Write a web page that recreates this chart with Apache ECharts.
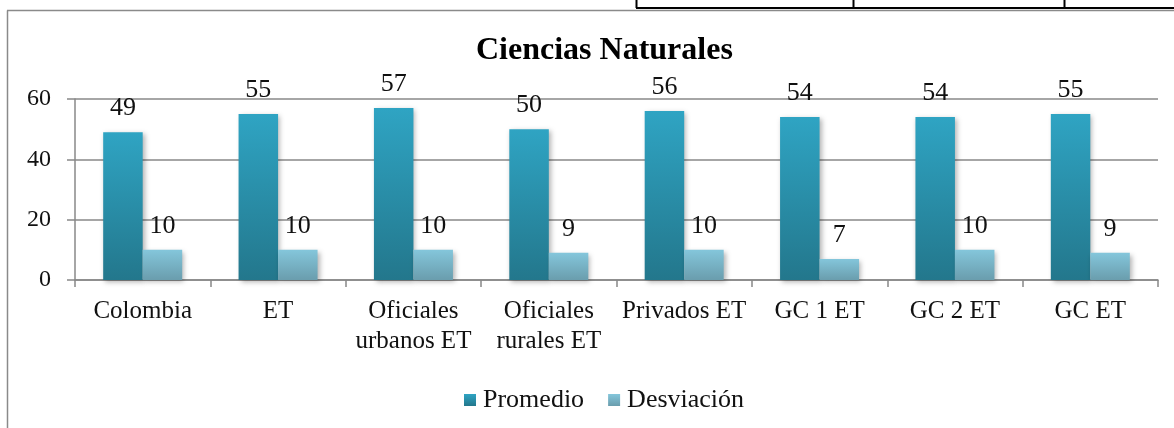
<!DOCTYPE html>
<html>
<head>
<meta charset="utf-8">
<script src="https://cdn.jsdelivr.net/npm/echarts@6/dist/echarts.min.js"></script>
<style>
html,body{margin:0;padding:0;background:#fff;}
#chart{width:1174px;height:428px;}
</style>
</head>
<body>
<div id="chart"></div>
<script>
const titleText = 'Ciencias Naturales';
const categories = ['Colombia', 'ET', 'Oficiales\nurbanos ET', 'Oficiales\nrurales ET', 'Privados ET', 'GC 1 ET', 'GC 2 ET', 'GC ET'];
const promedio = [49, 55, 57, 50, 56, 54, 54, 55];
const desviacion = [10, 10, 10, 9, 10, 7, 10, 9];
const seriesNames = ['Promedio', 'Desviación'];
const yTicks = { min: 0, max: 60, interval: 20 };

const FONT = '"Liberation Serif", "Times New Roman", serif';
const chart = echarts.init(document.getElementById('chart'), null, { renderer: 'canvas' });

function grad(top, bottom) {
  return new echarts.graphic.LinearGradient(0, 0, 0, 1, [
    { offset: 0, color: top },
    { offset: 1, color: bottom }
  ]);
}
const promColor = grad('#2fa4c3', '#23778c');
const desvColor = grad('#84c6db', '#6a9dad');

const labelStyle = {
  show: true,
  position: 'top',
  distance: 11,
  fontFamily: FONT,
  fontSize: 26,
  color: '#111'
};
const barShadow = {
  shadowBlur: 5,
  shadowColor: 'rgba(0,0,0,0.3)',
  shadowOffsetX: 2,
  shadowOffsetY: 2
};

chart.setOption({
  animation: false,
  backgroundColor: '#fff',
  title: {
    text: titleText,
    left: 471,
    top: 30,
    textStyle: { fontFamily: FONT, fontSize: 32, fontWeight: 'bold', color: '#000' }
  },
  legend: {
    data: seriesNames,
    left: 459,
    top: 382,
    itemWidth: 12,
    itemHeight: 12,
    itemGap: 24,
    icon: 'rect',
    textStyle: { fontFamily: FONT, fontSize: 26, color: '#111', padding: [0, 0, 0, 2] }
  },
  grid: { left: 75, right: 16, top: 99, bottom: 148, containLabel: false },
  xAxis: {
    type: 'category',
    data: categories,
    axisLine: { lineStyle: { color: '#888', width: 1.5 } },
    axisTick: { show: true, length: 7, lineStyle: { color: '#888', width: 1.5 } },
    axisLabel: { fontFamily: FONT, fontSize: 25, color: '#111', margin: 16, lineHeight: 30, interval: 0 },
    splitLine: { show: false }
  },
  yAxis: {
    type: 'value',
    min: yTicks.min,
    max: yTicks.max,
    interval: yTicks.interval,
    axisLine: { show: true, lineStyle: { color: '#888', width: 1.5 } },
    axisTick: { show: true, inside: false, length: 8, lineStyle: { color: '#888', width: 1.5 } },
    axisLabel: { fontFamily: FONT, fontSize: 24, color: '#111', margin: 24 },
    splitLine: { show: true, lineStyle: { color: '#888', width: 1.5 } }
  },
  series: [
    {
      name: seriesNames[0],
      type: 'bar',
      data: promedio,
      barWidth: 39.5,
      barGap: '0%',
      itemStyle: Object.assign({ color: promColor }, barShadow),
      label: labelStyle
    },
    {
      name: seriesNames[1],
      type: 'bar',
      data: desviacion,
      barWidth: 39.5,
      barGap: '0%',
      itemStyle: Object.assign({ color: desvColor }, barShadow),
      label: labelStyle
    }
  ],
  graphic: [
    { type: 'line', shape: { x1: 7.5, y1: 10.5, x2: 7.5, y2: 428 }, style: { stroke: '#8a8a8a', lineWidth: 1.5 }, silent: true },
    { type: 'line', shape: { x1: 7, y1: 10.5, x2: 1174, y2: 10.5 }, style: { stroke: '#8a8a8a', lineWidth: 1.5 }, silent: true },
    { type: 'line', shape: { x1: 636, y1: 8, x2: 1174, y2: 8 }, style: { stroke: '#000', lineWidth: 2 }, silent: true },
    { type: 'line', shape: { x1: 636.5, y1: 0, x2: 636.5, y2: 8 }, style: { stroke: '#000', lineWidth: 2 }, silent: true },
    { type: 'line', shape: { x1: 853.5, y1: 0, x2: 853.5, y2: 8 }, style: { stroke: '#000', lineWidth: 2 }, silent: true },
    { type: 'line', shape: { x1: 1064.5, y1: 0, x2: 1064.5, y2: 8 }, style: { stroke: '#000', lineWidth: 2 }, silent: true },
    { type: 'text', left: 645, top: -15, silent: true, style: { text: 'GC ET', font: '20px ' + FONT, fill: '#111' } }
  ]
});
</script>
</body>
</html>
